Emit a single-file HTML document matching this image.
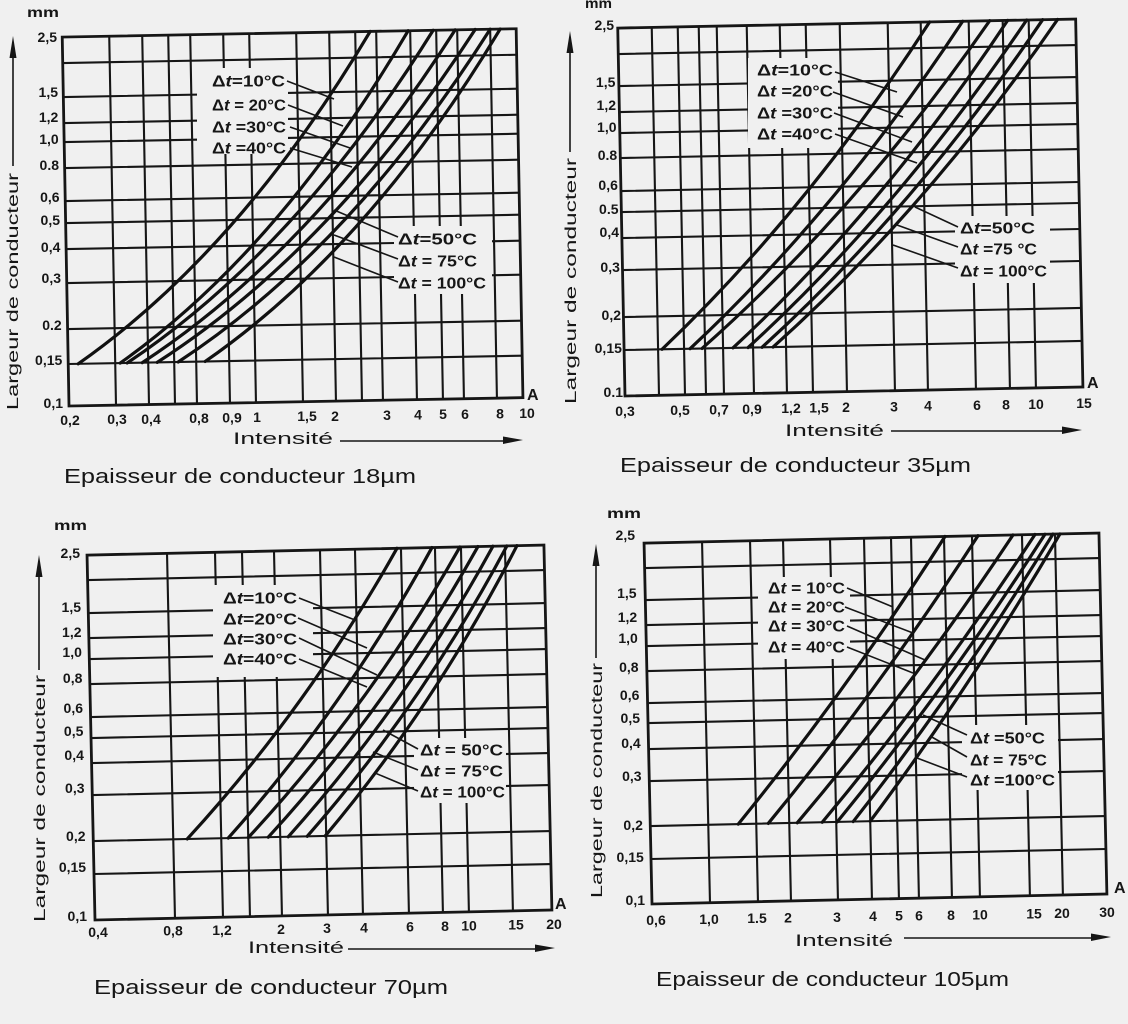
<!DOCTYPE html>
<html><head><meta charset="utf-8">
<style>
html,body{margin:0;padding:0;background:#f0f0f0}
svg{display:block}
text{font-family:"Liberation Sans",Arial,sans-serif;fill:#161616}
.tx{font-size:14px;font-weight:bold;text-anchor:middle}
.ty{font-size:14px;font-weight:bold;text-anchor:end}
.lb{font-size:16px;font-weight:bold}
.ax{font-size:17px}
.ti{font-size:20px}
.yt{font-size:16px}
.mm{font-size:14px;font-weight:bold}
.g{stroke:#161616;stroke-width:2.1;fill:none}
.f{stroke:#161616;stroke-width:2.8;fill:none}
.c{stroke:#111;stroke-width:3.2;fill:none;stroke-linecap:round}
.l{stroke:#161616;stroke-width:1.6;fill:none}
.w{fill:#f0f0f0}
.ar{fill:#161616}
</style></head>
<body>
<svg width="1128" height="1024" viewBox="0 0 1128 1024" xmlns="http://www.w3.org/2000/svg">
<rect width="1128" height="1024" fill="#f0f0f0"/>

<!-- ================= CHART 1 (18um) ================= -->
<g transform="translate(69 406) rotate(-1.05)">
<path class="g" d="M0 -42H454M0 -77H454M0 -123H454M0 -157H454M0 -183H454M0 -205H454M0 -238H454M0 -264H454M0 -283H454M0 -309H454M0 -343H454"/>
<path class="g" d="M47 0V-369M80 0V-369M106 0V-369M128 0V-369M161 0V-369M187 0V-369M234 0V-369M267 0V-369M293 0V-369M314 0V-369M348 0V-369M374 0V-369M395 0V-369M428 0V-369"/>
<rect class="f" x="0" y="-369" width="454" height="369"/>
</g>
<rect class="w" x="197" y="68" width="91" height="86"/>
<rect class="w" x="394" y="226" width="98" height="68"/>
<g transform="translate(69 406) rotate(-1.05)">
<path class="c" d="M10 -42Q173.6 -152.2 308 -369"/>
<path class="c" d="M52 -42Q213.4 -152.2 346 -369"/>
<path class="c" d="M59 -42Q230.3 -152.2 371 -369"/>
<path class="c" d="M74 -42Q249.1 -152.2 393 -369"/>
<path class="c" d="M89 -42Q266.9 -152.2 413 -369"/>
<path class="c" d="M110 -42Q284.6 -152.2 428 -369"/>
<path class="c" d="M137 -42Q302.2 -152.2 438 -369"/>
</g>
<path class="l" d="M287 81L334 99M288 105L343 126M290 127L350 148M290 148L352 167M398 237L334 210M398 259L334 235M398 282L334 257"/>
<text class="lb" x="212" y="86.5" textLength="73" lengthAdjust="spacingAndGlyphs">Δ<tspan font-style="italic">t</tspan>=10°C</text>
<text class="lb" x="212" y="110.5" textLength="74" lengthAdjust="spacingAndGlyphs">Δ<tspan font-style="italic">t</tspan> = 20°C</text>
<text class="lb" x="212" y="132.5" textLength="74" lengthAdjust="spacingAndGlyphs">Δ<tspan font-style="italic">t</tspan> =30°C</text>
<text class="lb" x="212" y="153.5" textLength="74" lengthAdjust="spacingAndGlyphs">Δ<tspan font-style="italic">t</tspan> =40°C</text>
<text class="lb" x="398" y="244.5" textLength="79" lengthAdjust="spacingAndGlyphs">Δ<tspan font-style="italic">t</tspan>=50°C</text>
<text class="lb" x="398" y="266.5" textLength="79" lengthAdjust="spacingAndGlyphs">Δ<tspan font-style="italic">t</tspan> = 75°C</text>
<text class="lb" x="398" y="288.5" textLength="88" lengthAdjust="spacingAndGlyphs">Δ<tspan font-style="italic">t</tspan> = 100°C</text>
<!-- y ticks -->
<text class="ty" x="57" y="42">2,5</text>
<text class="ty" x="58" y="97">1,5</text>
<text class="ty" x="58.3" y="122">1,2</text>
<text class="ty" x="58.7" y="144">1,0</text>
<text class="ty" x="59" y="170">0.8</text>
<text class="ty" x="59.6" y="202">0,6</text>
<text class="ty" x="60" y="225">0,5</text>
<text class="ty" x="60.4" y="252">0,4</text>
<text class="ty" x="61" y="283">0,3</text>
<text class="ty" x="61.7" y="330">0.2</text>
<text class="ty" x="62.3" y="365">0,15</text>
<text class="ty" x="63" y="408">0,1</text>
<!-- x ticks -->
<text class="tx" x="70" y="425">0,2</text>
<text class="tx" x="117" y="424">0,3</text>
<text class="tx" x="151" y="424">0,4</text>
<text class="tx" x="199" y="423">0,8</text>
<text class="tx" x="232" y="422.5">0,9</text>
<text class="tx" x="257" y="422">1</text>
<text class="tx" x="307" y="421">1,5</text>
<text class="tx" x="335" y="421">2</text>
<text class="tx" x="387" y="420">3</text>
<text class="tx" x="418" y="419.5">4</text>
<text class="tx" x="443" y="419">5</text>
<text class="tx" x="465" y="419">6</text>
<text class="tx" x="500" y="418.5">8</text>
<text class="tx" x="527" y="418">10</text>
<text class="lb" x="527" y="400" font-size="15">A</text>
<text class="mm" x="27" y="17" textLength="32" lengthAdjust="spacingAndGlyphs">mm</text>
<text class="yt" transform="translate(18 410) rotate(-90)" textLength="237" lengthAdjust="spacingAndGlyphs">Largeur de conducteur</text>
<path class="l" d="M13 166V52" stroke-width="2"/>
<polygon class="ar" points="13,36 9.5,58 16.5,58"/>
<text class="ax" x="233" y="444" textLength="100" lengthAdjust="spacingAndGlyphs">Intensité</text>
<path class="l" d="M340 441H506" stroke-width="2"/>
<polygon class="ar" points="523,440 503,436.5 503,444"/>
<text class="ti" x="64" y="483" textLength="352" lengthAdjust="spacingAndGlyphs">Epaisseur de conducteur  18µm</text>

<!-- ================= CHART 2 (35um) ================= -->
<g transform="translate(625 396) rotate(-1.13)">
<path class="g" d="M0 -46H458M0 -79H458M0 -126H458M0 -158H458M0 -184H458M0 -205H458M0 -238H458M0 -263H458M0 -284H458M0 -310H458M0 -342H458"/>
<path class="g" d="M34 0V-368M60 0V-368M81 0V-368M99 0V-368M129 0V-368M162 0V-368M188 0V-368M222 0V-368M270 0V-368M303 0V-368M351 0V-368M385 0V-368M411 0V-368"/>
<rect class="f" x="0" y="-368" width="458" height="368"/>
</g>
<rect class="w" x="748" y="58" width="90" height="90"/>
<rect class="w" x="955" y="216" width="95" height="67"/>
<g transform="translate(625 396) rotate(-1.13)">
<path class="c" d="M38 -46Q186 -181.4 312 -368"/>
<path class="c" d="M66 -46Q216.7 -181.4 345 -368"/>
<path class="c" d="M78 -46Q236.8 -181.4 372 -368"/>
<path class="c" d="M109 -46Q260.7 -181.4 390 -368"/>
<path class="c" d="M124 -46Q277.9 -181.4 409 -368"/>
<path class="c" d="M138 -46Q293 -181.4 425 -368"/>
<path class="c" d="M149 -46Q306.1 -181.4 440 -368"/>
</g>
<path class="l" d="M835 72L897 92M833 92L903 117M834 113L912 142M835 134L917 163M958 227L915 207M958 247L897 225M958 268L893 245"/>
<text class="lb" x="757" y="75.5" textLength="76" lengthAdjust="spacingAndGlyphs">Δ<tspan font-style="italic">t</tspan>=10°C</text>
<text class="lb" x="757" y="96.5" textLength="76" lengthAdjust="spacingAndGlyphs">Δ<tspan font-style="italic">t</tspan> =20°C</text>
<text class="lb" x="757" y="118.5" textLength="76" lengthAdjust="spacingAndGlyphs">Δ<tspan font-style="italic">t</tspan> =30°C</text>
<text class="lb" x="757" y="139.5" textLength="76" lengthAdjust="spacingAndGlyphs">Δ<tspan font-style="italic">t</tspan> =40°C</text>
<text class="lb" x="960" y="233.5" textLength="75" lengthAdjust="spacingAndGlyphs">Δ<tspan font-style="italic">t</tspan>=50°C</text>
<text class="lb" x="960" y="254.5" textLength="77" lengthAdjust="spacingAndGlyphs">Δ<tspan font-style="italic">t</tspan> =75 °C</text>
<text class="lb" x="960" y="276.5" textLength="87" lengthAdjust="spacingAndGlyphs">Δ<tspan font-style="italic">t</tspan> = 100°C</text>
<text class="ty" x="614" y="30">2,5</text>
<text class="ty" x="615.4" y="87">1,5</text>
<text class="ty" x="616" y="110">1,2</text>
<text class="ty" x="616.5" y="132">1,0</text>
<text class="ty" x="617.2" y="160">0.8</text>
<text class="ty" x="617.9" y="190">0,6</text>
<text class="ty" x="618.5" y="214">0.5</text>
<text class="ty" x="619" y="237">0,4</text>
<text class="ty" x="619.9" y="272">0,3</text>
<text class="ty" x="621" y="320">0,2</text>
<text class="ty" x="621.9" y="353">0,15</text>
<text class="ty" x="623" y="397">0.1</text>
<text class="tx" x="625" y="416">0,3</text>
<text class="tx" x="680" y="415">0,5</text>
<text class="tx" x="719" y="414.4">0,7</text>
<text class="tx" x="752" y="413.8">0,9</text>
<text class="tx" x="791" y="413.1">1,2</text>
<text class="tx" x="819" y="412.6">1,5</text>
<text class="tx" x="846" y="412.1">2</text>
<text class="tx" x="894" y="411.3">3</text>
<text class="tx" x="928" y="410.7">4</text>
<text class="tx" x="977" y="409.9">6</text>
<text class="tx" x="1006" y="409.4">8</text>
<text class="tx" x="1036" y="408.9">10</text>
<text class="tx" x="1084" y="408">15</text>
<text class="lb" x="1087" y="388" font-size="15">A</text>
<text class="mm" x="585" y="8" textLength="27" lengthAdjust="spacingAndGlyphs">mm</text>
<text class="yt" transform="translate(576 404) rotate(-90)" textLength="246" lengthAdjust="spacingAndGlyphs">Largeur de conducteur</text>
<path class="l" d="M570 152V46" stroke-width="2"/>
<polygon class="ar" points="570,31 566.5,53 573.5,53"/>
<text class="ax" x="785" y="436" textLength="99" lengthAdjust="spacingAndGlyphs">Intensité</text>
<path class="l" d="M891 431H1065" stroke-width="2"/>
<polygon class="ar" points="1082,430 1062,426.5 1062,434"/>
<text class="ti" x="620" y="472" textLength="351" lengthAdjust="spacingAndGlyphs">Epaisseur de conducteur 35µm</text>

<!-- ================= CHART 3 (70um) ================= -->
<g transform="translate(95 920) rotate(-1.25)">
<path class="g" d="M0 -46H457M0 -79H457M0 -125H457M0 -157H457M0 -182H457M0 -203H457M0 -236H457M0 -261H457M0 -282H457M0 -307H457M0 -340H457"/>
<path class="g" d="M80 0V-365M128 0V-365M155 0V-365M187 0V-365M233 0V-365M268 0V-365M314 0V-365M348 0V-365M374 0V-365M418 0V-365"/>
<rect class="f" x="0" y="-365" width="457" height="365"/>
</g>
<rect class="w" x="213" y="585" width="100" height="92"/>
<rect class="w" x="414" y="738" width="92" height="65"/>
<g transform="translate(95 920) rotate(-1.25)">
<path class="c" d="M94 -79Q217.1 -207.5 310 -365"/>
<path class="c" d="M135 -79Q254.7 -207.5 345 -365"/>
<path class="c" d="M155 -79Q279.3 -207.5 373 -365"/>
<path class="c" d="M175 -79Q298.1 -207.5 391 -365"/>
<path class="c" d="M195 -79Q315.3 -207.5 406 -365"/>
<path class="c" d="M214 -79Q331.4 -207.5 420 -365"/>
<path class="c" d="M232 -79Q344.9 -207.5 430 -365"/>
</g>
<path class="l" d="M299 598L355 620M298 618L367 648M299 638L377 675M299 659L367 687M418 749L383 730M418 770L373 752M418 791L375 773"/>
<text class="lb" x="223" y="603.5" textLength="74" lengthAdjust="spacingAndGlyphs">Δ<tspan font-style="italic">t</tspan>=10°C</text>
<text class="lb" x="223" y="624.5" textLength="74" lengthAdjust="spacingAndGlyphs">Δ<tspan font-style="italic">t</tspan>=20°C</text>
<text class="lb" x="223" y="644.5" textLength="74" lengthAdjust="spacingAndGlyphs">Δ<tspan font-style="italic">t</tspan>=30°C</text>
<text class="lb" x="223" y="664.5" textLength="74" lengthAdjust="spacingAndGlyphs">Δ<tspan font-style="italic">t</tspan>=40°C</text>
<text class="lb" x="420" y="755.5" textLength="83" lengthAdjust="spacingAndGlyphs">Δ<tspan font-style="italic">t</tspan> = 50°C</text>
<text class="lb" x="420" y="776.5" textLength="83" lengthAdjust="spacingAndGlyphs">Δ<tspan font-style="italic">t</tspan> = 75°C</text>
<text class="lb" x="420" y="797.5" textLength="85" lengthAdjust="spacingAndGlyphs">Δ<tspan font-style="italic">t</tspan> = 100°C</text>
<text class="ty" x="80" y="558">2,5</text>
<text class="ty" x="81" y="612">1,5</text>
<text class="ty" x="81.5" y="637">1,2</text>
<text class="ty" x="81.9" y="657">1,0</text>
<text class="ty" x="82.4" y="683">0,8</text>
<text class="ty" x="83" y="713">0,6</text>
<text class="ty" x="83.4" y="736">0,5</text>
<text class="ty" x="83.9" y="760">0,4</text>
<text class="ty" x="84.5" y="793">0,3</text>
<text class="ty" x="85.5" y="841">0,2</text>
<text class="ty" x="86.1" y="872">0,15</text>
<text class="ty" x="87" y="921">0,1</text>
<text class="tx" x="98" y="937">0,4</text>
<text class="tx" x="173" y="935.7">0,8</text>
<text class="tx" x="222" y="934.8">1,2</text>
<text class="tx" x="281" y="933.8">2</text>
<text class="tx" x="327" y="933">3</text>
<text class="tx" x="364" y="932.3">4</text>
<text class="tx" x="410" y="931.5">6</text>
<text class="tx" x="445" y="930.9">8</text>
<text class="tx" x="469" y="930.5">10</text>
<text class="tx" x="516" y="929.7">15</text>
<text class="tx" x="554" y="929">20</text>
<text class="lb" x="555" y="909" font-size="15">A</text>
<text class="mm" x="54" y="530" textLength="33" lengthAdjust="spacingAndGlyphs">mm</text>
<text class="yt" transform="translate(45 922) rotate(-90)" textLength="247" lengthAdjust="spacingAndGlyphs">Largeur de conducteur</text>
<path class="l" d="M39 670V572" stroke-width="2"/>
<polygon class="ar" points="39,555 35.5,577 42.5,577"/>
<text class="ax" x="248" y="953" textLength="96" lengthAdjust="spacingAndGlyphs">Intensité</text>
<path class="l" d="M348 949H538" stroke-width="2"/>
<polygon class="ar" points="555,948 535,944.5 535,952"/>
<text class="ti" x="94" y="994" textLength="354" lengthAdjust="spacingAndGlyphs">Epaisseur  de  conducteur 70µm</text>

<!-- ================= CHART 4 (105um) ================= -->
<g transform="translate(652 904) rotate(-1.26)">
<path class="g" d="M0 -45H455M0 -78H455M0 -123H455M0 -155H455M0 -181H455M0 -201H455M0 -233H455M0 -258H455M0 -279H455M0 -304H455M0 -336H455"/>
<path class="g" d="M58 0V-361M106 0V-361M139 0V-361M186 0V-361M220 0V-361M247 0V-361M267 0V-361M300 0V-361M328 0V-361M378 0V-361M411 0V-361"/>
<rect class="f" x="0" y="-361" width="455" height="361"/>
</g>
<rect class="w" x="758" y="577" width="92" height="82"/>
<rect class="w" x="962" y="725" width="96" height="65"/>
<g transform="translate(652 904) rotate(-1.26)">
<path class="c" d="M88 -78Q200.9 -210.9 301 -361"/>
<path class="c" d="M118 -78Q232.5 -210.9 334 -361"/>
<path class="c" d="M147 -78Q264.7 -210.9 369 -361"/>
<path class="c" d="M172 -78Q288.1 -210.9 391 -361"/>
<path class="c" d="M187 -78Q300.4 -210.9 401 -361"/>
<path class="c" d="M203 -78Q312.2 -210.9 409 -361"/>
<path class="c" d="M220 -78Q323.9 -210.9 416 -361"/>
</g>
<path class="l" d="M847 588L893 607M845 607L913 633M847 626L925 660M847 647L913 673M967 735L923 715M967 757L930 736M967 777L917 758"/>
<text class="lb" x="768" y="593.5" textLength="77" lengthAdjust="spacingAndGlyphs">Δ<tspan font-style="italic">t</tspan> = 10°C</text>
<text class="lb" x="768" y="612.5" textLength="77" lengthAdjust="spacingAndGlyphs">Δ<tspan font-style="italic">t</tspan> = 20°C</text>
<text class="lb" x="768" y="631.5" textLength="77" lengthAdjust="spacingAndGlyphs">Δ<tspan font-style="italic">t</tspan> = 30°C</text>
<text class="lb" x="768" y="652.5" textLength="77" lengthAdjust="spacingAndGlyphs">Δ<tspan font-style="italic">t</tspan> = 40°C</text>
<text class="lb" x="970" y="743.5" textLength="75" lengthAdjust="spacingAndGlyphs">Δ<tspan font-style="italic">t</tspan> =50°C</text>
<text class="lb" x="970" y="765.5" textLength="77" lengthAdjust="spacingAndGlyphs">Δ<tspan font-style="italic">t</tspan> = 75°C</text>
<text class="lb" x="970" y="785.5" textLength="85" lengthAdjust="spacingAndGlyphs">Δ<tspan font-style="italic">t</tspan> =100°C</text>
<text class="ty" x="635" y="540">2,5</text>
<text class="ty" x="636.6" y="598">1,5</text>
<text class="ty" x="637.2" y="622">1,2</text>
<text class="ty" x="637.8" y="643">1,0</text>
<text class="ty" x="638.6" y="672">0,8</text>
<text class="ty" x="639.4" y="700">0,6</text>
<text class="ty" x="640" y="723">0,5</text>
<text class="ty" x="640.7" y="748">0,4</text>
<text class="ty" x="641.6" y="781">0,3</text>
<text class="ty" x="642.9" y="830">0,2</text>
<text class="ty" x="643.8" y="862">0,15</text>
<text class="ty" x="645" y="905">0,1</text>
<text class="tx" x="656" y="925">0,6</text>
<text class="tx" x="709" y="924.1">1,0</text>
<text class="tx" x="757" y="923.2">1.5</text>
<text class="tx" x="788" y="922.7">2</text>
<text class="tx" x="837" y="921.8">3</text>
<text class="tx" x="873" y="921.2">4</text>
<text class="tx" x="899" y="920.7">5</text>
<text class="tx" x="919" y="920.3">6</text>
<text class="tx" x="951" y="919.8">8</text>
<text class="tx" x="980" y="919.3">10</text>
<text class="tx" x="1034" y="918.3">15</text>
<text class="tx" x="1062" y="917.8">20</text>
<text class="tx" x="1107" y="917">30</text>
<text class="lb" x="1114" y="893" font-size="15">A</text>
<text class="mm" x="607" y="518" textLength="34" lengthAdjust="spacingAndGlyphs">mm</text>
<text class="yt" transform="translate(602 898) rotate(-90)" textLength="235" lengthAdjust="spacingAndGlyphs">Largeur de conducteur</text>
<path class="l" d="M596 658V561" stroke-width="2"/>
<polygon class="ar" points="596,544 592.5,566 599.5,566"/>
<text class="ax" x="795" y="946" textLength="98" lengthAdjust="spacingAndGlyphs">Intensité</text>
<path class="l" d="M904 938H1094" stroke-width="2"/>
<polygon class="ar" points="1111,937 1091,933.5 1091,941"/>
<text class="ti" x="656" y="986" textLength="353" lengthAdjust="spacingAndGlyphs">Epaisseur de conducteur  105µm</text>
</svg>
</body></html>
